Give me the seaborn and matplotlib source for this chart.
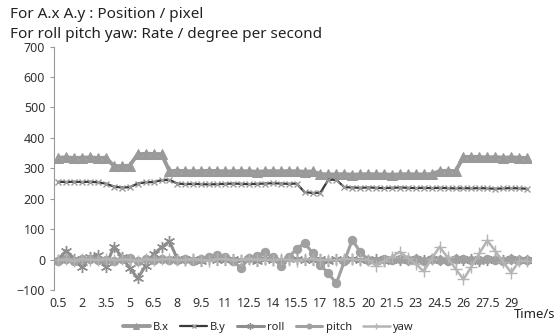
import matplotlib
matplotlib.use("Agg")
import matplotlib.pyplot as plt
import seaborn as sns

# time axis (s), one sample every 0.5 s
time = [0.5, 1, 1.5, 2, 2.5, 3, 3.5, 4, 4.5, 5, 5.5, 6, 6.5, 7, 7.5, 8, 8.5, 9, 9.5, 10,
        10.5, 11, 11.5, 12, 12.5, 13, 13.5, 14, 14.5, 15, 15.5, 16, 16.5, 17, 17.5, 18, 18.5, 19, 19.5, 20,
        20.5, 21, 21.5, 22, 22.5, 23, 23.5, 24, 24.5, 25, 25.5, 26, 26.5, 27, 27.5, 28, 28.5, 29, 29.5, 30]

bx = [335, 336, 334, 335, 336, 334, 335, 308, 307, 309, 346, 348, 347, 347,
      291, 292, 291, 290, 291, 292, 291, 290, 290, 291, 290, 289, 290, 291, 290, 291, 290, 289, 290,
      281, 280, 280, 281, 279, 280, 281, 280, 280, 279, 280, 281, 280, 280, 281,
      291, 292, 291, 337, 338, 337, 336, 337, 335, 336, 335, 334]

by = [256, 255, 256, 255, 256, 254, 250, 240, 237, 238, 250, 254, 255, 261, 262,
      250, 248, 249, 248, 247, 248, 249, 250, 249, 248, 249, 250, 251, 250, 249, 250,
      222, 219, 220, 263, 262,
      238, 237, 236, 237, 236, 235, 236, 237, 236, 235, 236, 235, 236, 235, 234, 235, 234, 235, 234, 233,
      234, 235, 234, 233]

roll = [0, 29, 3, -25, 8, 15, -23, 43, 8, -27, -62, -20, 18, 40, 60, 2,
        -2, 1, -3, 2, 0, -2, 3, -1, 1, -3, 2, 0, -2, 1, 3, -1, 0, 2, -3, 1,
        -1, 2, 0, -2, 1, -3, 2, 0, -1, 3, -2, 1, 0, -2, 2, -1, 1, -3, 0, 2, -1, 1, -2, 0]

pitch = [-3, 2, -4, 1, 3, -2, 0, -5, 2, 4, -3, 1, -2, 3, 0, -1, 2, -3, 1, 10,
         14, 8, -5, -28, 5, 12, 25, 8, -20, 8, 35, 55, 22, -18, -45, -78, -6, 65, 25, 0,
         -3, 2, -1, 3, -2, 1, -4, 2, 0, -3, 1, 3, -2, 0, 2, -1, -3, 1, 0, -2]

yaw = [-2, 1, -3, 2, 0, -1, 3, -2, 1, 0, -3, 2, -1, 1, 3, -2, 0, 2, -1, -3,
       1, 2, -2, 0, 3, -1, 1, -2, 2, 0, -3, 1, 2, -1, 0, -2, 3, 1, -1, 0,
       -20, -5, 10, 26, 5, -15, -38, 3, 42, 7, -30, -65, -23, 21, 63, 28, -8, -43, -5, -3]

tick_labels = ["0.5", "2", "3.5", "5", "6.5", "8", "9.5", "11", "12.5", "14", "15.5", "17", "18.5",
               "20", "21.5", "23", "24.5", "26", "27.5", "29"]

sns.set_style("white")
plt.rcParams['font.family'] = ['Noto Sans', 'DejaVu Sans']

fig = plt.figure(figsize=(5.59, 3.33), dpi=100)
ax = fig.add_axes([0.097, 0.129, 0.853, 0.731])

asterisk = (6, 2, 0)
sns.lineplot(x=time, y=bx, ax=ax, color="#9a9a9a", lw=2.8, marker="^", markersize=7,
             markeredgecolor="#9a9a9a", label="B.x", legend=False)
sns.lineplot(x=time, y=by, ax=ax, color="#3a3a3a", lw=1.6, marker="x", markersize=5,
             markeredgecolor="#9a9a9a", markeredgewidth=1, label="B.y", legend=False)
sns.lineplot(x=time, y=roll, ax=ax, color="#8e8e8e", lw=2.2, marker=asterisk, markersize=8,
             markeredgecolor="#8e8e8e", markeredgewidth=1, label="roll", legend=False)
sns.lineplot(x=time, y=pitch, ax=ax, color="#a0a0a0", lw=2.2, marker="o", markersize=6,
             markeredgecolor="#a0a0a0", label="pitch", legend=False)
sns.lineplot(x=time, y=yaw, ax=ax, color="#b4b4b4", lw=1.8, marker="+", markersize=8,
             markeredgecolor="#b4b4b4", markeredgewidth=1, label="yaw", legend=False)

ax.set_xlim(0.25, 30.25)
ax.set_ylim(-100, 700)
ax.set_yticks(range(-100, 701, 100))
ax.set_xticks([float(t) for t in tick_labels])
ax.set_xticklabels(tick_labels)
ax.tick_params(axis='both', labelsize=9, colors="#333333")
ax.tick_params(axis='y', length=3, direction='out', left=True, color="#999999")
ax.tick_params(axis='x', length=0, pad=5)
ax.set_xlabel("")
ax.set_ylabel("")

for s in ["top", "right", "bottom"]:
    ax.spines[s].set_visible(False)
ax.spines["left"].set_color("#999999")
ax.spines["left"].set_linewidth(0.8)

handles, labels = ax.get_legend_handles_labels()
fig.legend(handles, labels, loc="lower center", bbox_to_anchor=(0.48, -0.03), ncol=5,
           frameon=False, fontsize=8, markerscale=0.6, handlelength=2.4,
           columnspacing=1.0, handletextpad=0.3)

fig.text(0.018, 0.945, "For A.x A.y : Position / pixel", fontsize=11, color="#222222")
fig.text(0.018, 0.885, "For roll pitch yaw: Rate / degree per second", fontsize=11, color="#222222")
fig.text(0.993, 0.045, "Time/s", fontsize=9.5, ha="right", color="#222222")

fig.savefig("out.png", dpi=100)
